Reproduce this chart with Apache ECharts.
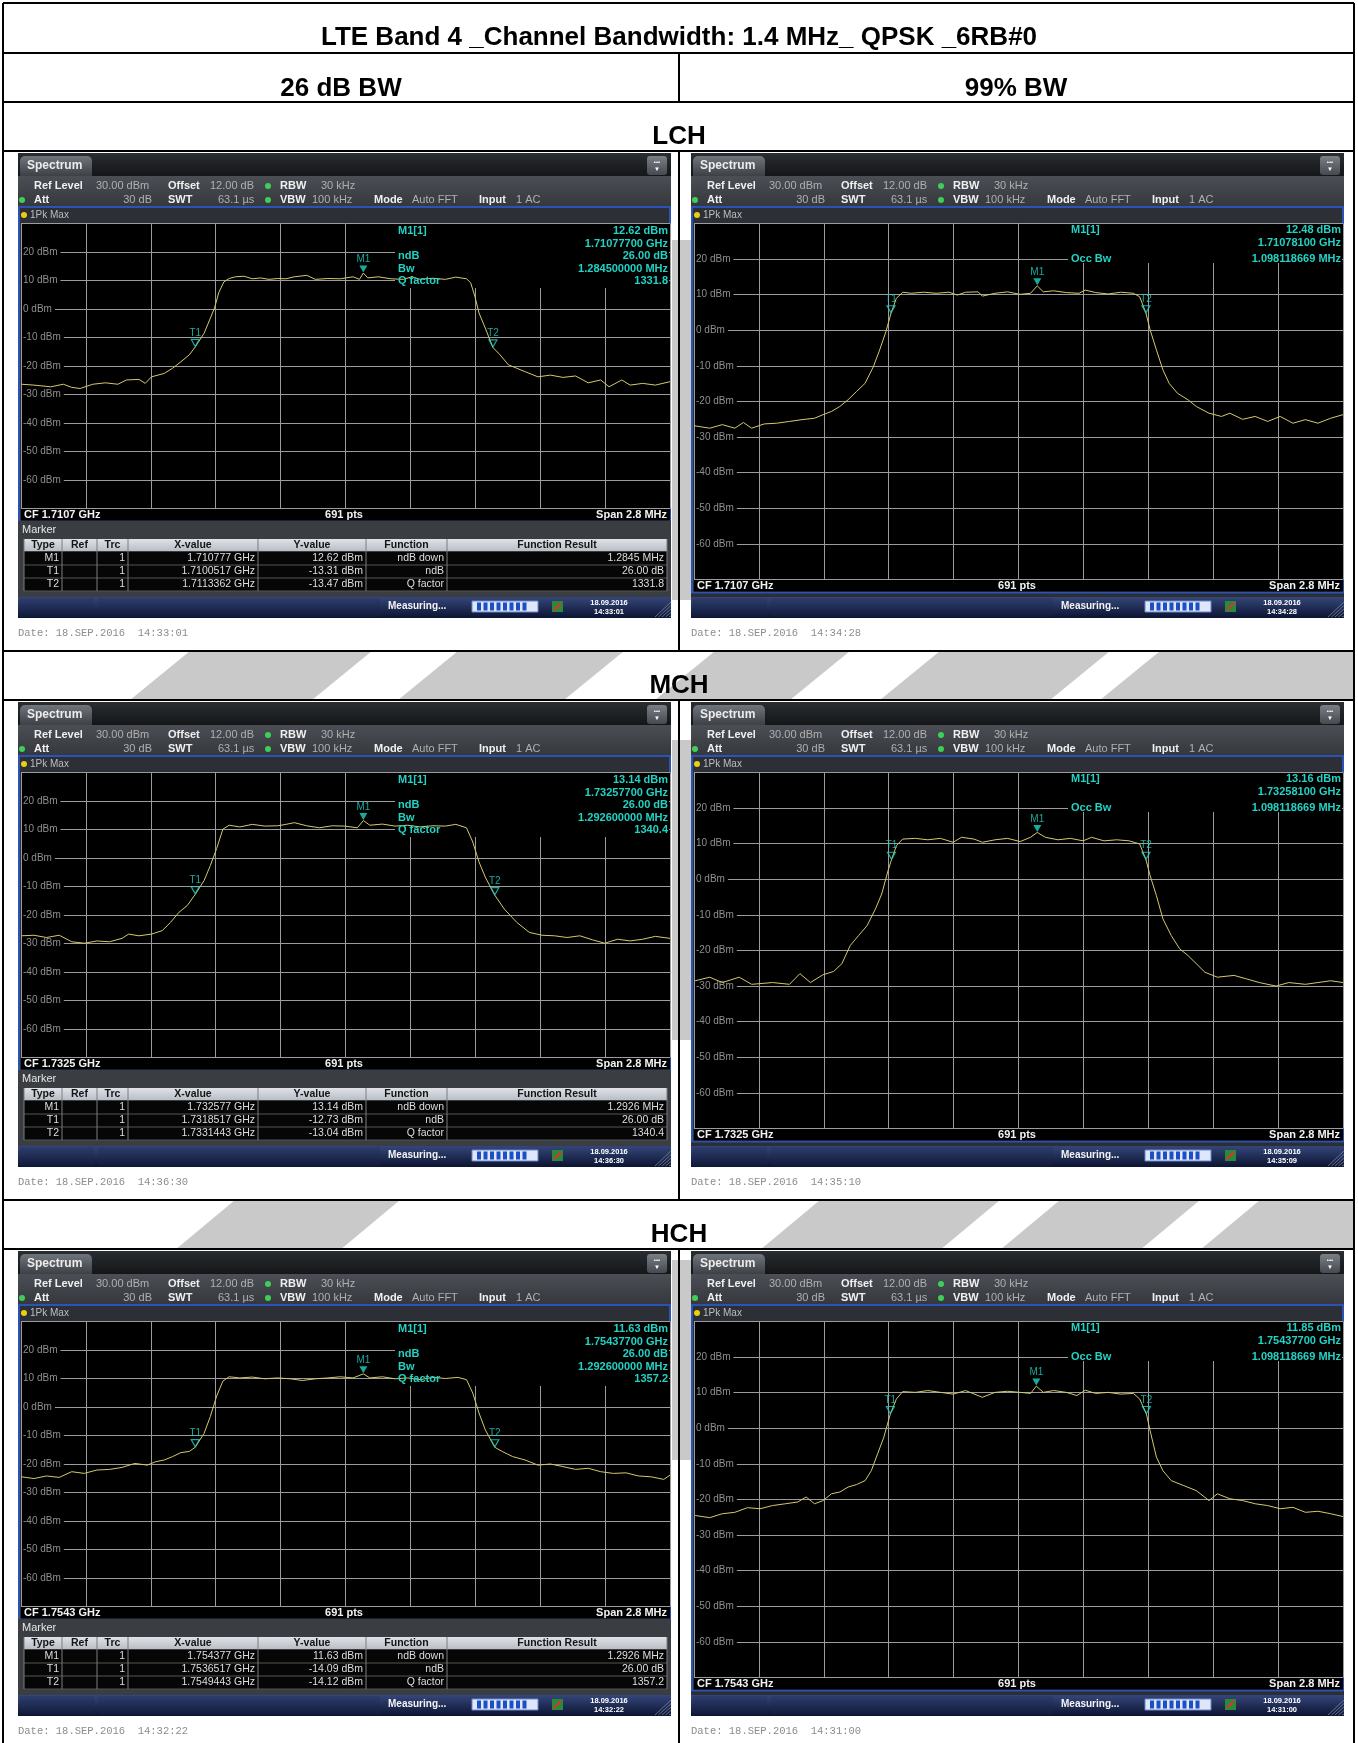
<!DOCTYPE html>
<html>
<head>
<meta charset="utf-8">
<script src="https://cdn.jsdelivr.net/npm/echarts@6/dist/echarts.min.js"></script>
<style>
html, body { margin: 0; padding: 0; background: #fff; }
#main { width: 1358px; height: 1743px; }
</style>
</head>
<body>
<div id="main"></div>
<script>
// ===== 数据：频偏(MHz，相对中心频率) / 电平(dBm) =====
const titleText = 'LTE Band 4 _Channel Bandwidth: 1.4 MHz_ QPSK _6RB#0';
const colTitles = ['26 dB BW', '99% BW'];
const rowNames = ['LCH', 'MCH', 'HCH'];
const cfLabels = ['CF 1.7107 GHz', 'CF 1.7325 GHz', 'CF 1.7543 GHz'];
const yTickLabels = [20, 10, 0, -10, -20, -30, -40, -50, -60];

const lch26Trace = [[-1.398,-26.4],[-1.344,-26.7],[-1.272,-27.3],[-1.217,-26.4],[-1.181,-27.5],[-1.145,-27.9],[-1.090,-26.4],[-1.036,-25.9],[-0.982,-26.4],[-0.945,-24.9],[-0.891,-24.7],[-0.864,-26.1],[-0.837,-23.8],[-0.782,-22.6],[-0.746,-20.8],[-0.710,-18.5],[-0.674,-16.1],[-0.648,-13.3],[-0.610,-8.5],[-0.583,-3.2],[-0.565,0.4],[-0.547,5.7],[-0.525,9.5],[-0.502,10.7],[-0.475,11.3],[-0.438,11.5],[-0.402,10.6],[-0.366,10.9],[-0.330,10.4],[-0.293,10.7],[-0.257,10.6],[-0.221,11.3],[-0.167,11.8],[-0.130,10.4],[-0.076,10.7],[-0.022,10.6],[0.033,11.3],[0.060,10.4],[0.077,12.62],[0.096,10.9],[0.141,11.3],[0.196,10.6],[0.250,10.4],[0.286,11.3],[0.322,10.4],[0.377,10.8],[0.431,10.4],[0.476,11.2],[0.522,10.6],[0.540,9.2],[0.558,4.5],[0.576,-1.4],[0.603,-6.7],[0.636,-13.5],[0.667,-16.1],[0.703,-19.6],[0.739,-20.8],[0.775,-22.0],[0.830,-23.8],[0.884,-23.2],[0.938,-24.0],[0.993,-23.5],[1.047,-25.9],[1.101,-24.9],[1.137,-27.3],[1.192,-24.9],[1.228,-26.7],[1.282,-26.1],[1.337,-26.7],[1.400,-25.5]];
const lch99Trace = [[-1.400,-26.8],[-1.332,-27.5],[-1.278,-26.5],[-1.224,-27.5],[-1.187,-25.9],[-1.151,-27.5],[-1.097,-26.3],[-1.043,-26.1],[-0.988,-25.6],[-0.934,-25.1],[-0.880,-24.7],[-0.843,-23.7],[-0.807,-22.8],[-0.771,-21.4],[-0.735,-19.5],[-0.699,-17.2],[-0.662,-14.9],[-0.626,-10.2],[-0.599,-5.5],[-0.572,-0.4],[-0.550,4.8],[-0.527,9.0],[-0.499,10.7],[-0.463,10.4],[-0.409,10.7],[-0.355,10.4],[-0.300,10.7],[-0.264,9.9],[-0.228,10.7],[-0.174,10.8],[-0.156,9.6],[-0.101,10.4],[-0.047,10.8],[0.007,10.1],[0.052,10.4],[0.081,12.48],[0.107,10.8],[0.152,11.1],[0.206,10.6],[0.261,10.4],[0.288,11.3],[0.333,10.6],[0.387,10.2],[0.441,10.7],[0.496,10.4],[0.523,9.4],[0.550,4.8],[0.568,0.1],[0.595,-5.5],[0.623,-11.1],[0.650,-14.9],[0.686,-17.7],[0.731,-19.5],[0.767,-21.4],[0.822,-23.3],[0.876,-24.2],[0.912,-23.3],[0.967,-25.0],[1.021,-24.2],[1.075,-25.6],[1.129,-24.2],[1.184,-26.1],[1.238,-25.1],[1.292,-26.1],[1.347,-24.7],[1.400,-23.7]];
const mch26Trace = [[-1.398,-27.3],[-1.344,-27.1],[-1.290,-27.9],[-1.235,-27.1],[-1.181,-29.4],[-1.127,-29.9],[-1.072,-29.1],[-1.018,-29.4],[-0.964,-28.2],[-0.936,-26.7],[-0.891,-27.3],[-0.837,-26.7],[-0.791,-25.5],[-0.755,-22.6],[-0.719,-19.1],[-0.683,-16.7],[-0.648,-12.73],[-0.610,-7.9],[-0.583,-2.6],[-0.556,3.3],[-0.529,10.1],[-0.502,11.5],[-0.456,10.9],[-0.402,11.8],[-0.348,11.2],[-0.293,11.3],[-0.257,11.8],[-0.221,12.4],[-0.167,11.3],[-0.112,10.6],[-0.058,11.3],[-0.004,11.2],[0.051,10.6],[0.077,13.14],[0.105,11.5],[0.159,11.9],[0.214,11.2],[0.268,11.5],[0.322,10.9],[0.377,11.3],[0.431,11.2],[0.476,11.8],[0.522,10.6],[0.549,5.6],[0.576,-1.4],[0.603,-6.7],[0.644,-13.04],[0.685,-17.9],[0.739,-22.6],[0.793,-26.1],[0.848,-27.1],[0.902,-27.3],[0.956,-27.9],[1.011,-27.3],[1.065,-28.7],[1.119,-29.9],[1.174,-28.5],[1.228,-29.1],[1.282,-28.5],[1.337,-27.5],[1.400,-28.2]];
const mch99Trace = [[-1.395,-28.5],[-1.332,-27.5],[-1.278,-29.0],[-1.205,-27.5],[-1.151,-29.5],[-1.061,-29.0],[-0.988,-29.5],[-0.943,-26.5],[-0.898,-29.0],[-0.843,-26.8],[-0.798,-25.9],[-0.762,-23.7],[-0.726,-18.6],[-0.690,-15.8],[-0.653,-13.0],[-0.617,-8.3],[-0.590,-4.1],[-0.563,2.4],[-0.548,5.5],[-0.527,9.4],[-0.500,11.3],[-0.445,11.5],[-0.391,11.1],[-0.337,11.5],[-0.282,10.4],[-0.246,11.8],[-0.192,11.3],[-0.156,10.4],[-0.101,11.1],[-0.047,11.5],[0.007,10.6],[0.052,11.8],[0.081,13.16],[0.116,11.8],[0.170,11.1],[0.224,11.5],[0.279,10.8],[0.315,11.8],[0.369,10.8],[0.424,11.1],[0.478,10.8],[0.523,9.9],[0.550,5.5],[0.568,1.0],[0.595,-4.6],[0.623,-11.1],[0.659,-15.8],[0.695,-19.5],[0.731,-21.4],[0.767,-23.7],[0.804,-26.1],[0.858,-27.5],[0.930,-27.0],[0.985,-28.0],[1.039,-29.0],[1.111,-30.0],[1.166,-29.0],[1.238,-29.5],[1.292,-29.0],[1.347,-28.5],[1.400,-29.0]];
const hch26Trace = [[-1.398,-24.5],[-1.344,-25.1],[-1.290,-24.2],[-1.235,-24.7],[-1.181,-22.7],[-1.127,-23.3],[-1.072,-22.1],[-1.018,-21.9],[-0.964,-21.2],[-0.909,-19.8],[-0.855,-20.4],[-0.819,-19.2],[-0.782,-18.6],[-0.746,-17.4],[-0.710,-16.0],[-0.674,-15.6],[-0.648,-14.09],[-0.610,-9.2],[-0.583,-3.3],[-0.556,3.8],[-0.529,9.1],[-0.502,10.6],[-0.456,10.2],[-0.402,10.5],[-0.348,9.9],[-0.293,10.2],[-0.239,9.9],[-0.185,9.3],[-0.130,9.9],[-0.076,10.2],[-0.022,10.6],[0.033,10.2],[0.077,11.63],[0.105,10.2],[0.159,10.6],[0.214,9.9],[0.268,10.2],[0.322,9.6],[0.377,10.4],[0.431,10.0],[0.485,10.4],[0.522,9.6],[0.549,4.9],[0.576,-2.1],[0.603,-8.0],[0.644,-14.12],[0.676,-15.6],[0.721,-17.4],[0.775,-18.6],[0.830,-20.4],[0.884,-20.0],[0.938,-20.9],[0.993,-21.9],[1.047,-21.5],[1.101,-22.7],[1.156,-23.3],[1.210,-23.1],[1.264,-24.2],[1.319,-24.5],[1.373,-25.4],[1.400,-23.9]];
const hch99Trace = [[-1.395,-24.5],[-1.332,-25.1],[-1.278,-24.0],[-1.224,-23.6],[-1.169,-22.3],[-1.115,-22.6],[-1.061,-21.7],[-1.006,-21.2],[-0.952,-20.7],[-0.916,-19.3],[-0.880,-21.2],[-0.843,-20.3],[-0.807,-18.4],[-0.771,-17.9],[-0.735,-16.5],[-0.699,-15.8],[-0.662,-14.7],[-0.635,-11.9],[-0.608,-7.2],[-0.581,-2.5],[-0.553,4.0],[-0.527,8.2],[-0.500,10.3],[-0.445,10.1],[-0.391,10.6],[-0.337,10.1],[-0.282,9.6],[-0.228,10.6],[-0.156,8.7],[-0.101,10.1],[-0.047,10.4],[0.007,10.1],[0.052,9.8],[0.077,11.85],[0.107,10.1],[0.152,10.6],[0.206,10.1],[0.252,9.2],[0.288,10.7],[0.333,9.8],[0.387,10.1],[0.441,9.6],[0.496,9.8],[0.523,8.2],[0.552,4.0],[0.568,-0.7],[0.595,-8.1],[0.623,-11.9],[0.659,-14.7],[0.713,-16.1],[0.767,-17.5],[0.822,-20.3],[0.858,-18.4],[0.912,-19.8],[0.967,-20.3],[1.021,-21.2],[1.075,-21.7],[1.129,-22.6],[1.184,-22.2],[1.238,-23.6],[1.292,-23.3],[1.347,-24.0],[1.400,-24.8]];

// 标记点 [名称, 频偏MHz, dBm]
const lch26Marks = [['M1', 0.077, 12.62], ['T1', -0.6483, -13.31], ['T2', 0.6362, -13.47]];
const lch99Marks = [['M1', 0.081, 12.48], ['T1', -0.550, 4.8], ['T2', 0.550, 4.8]];
const mch26Marks = [['M1', 0.077, 13.14], ['T1', -0.6483, -12.73], ['T2', 0.6443, -13.04]];
const mch99Marks = [['M1', 0.081, 13.16], ['T1', -0.548, 5.5], ['T2', 0.550, 5.5]];
const hch26Marks = [['M1', 0.077, 11.63], ['T1', -0.6483, -14.09], ['T2', 0.6443, -14.12]];
const hch99Marks = [['M1', 0.077, 11.85], ['T1', -0.553, 4.0], ['T2', 0.552, 4.0]];

// 右上角读数
const lch26Readout = ['12.62 dBm', '1.71077700 GHz', '26.00 dB', '1.284500000 MHz', '1331.8'];
const mch26Readout = ['13.14 dBm', '1.73257700 GHz', '26.00 dB', '1.292600000 MHz', '1340.4'];
const hch26Readout = ['11.63 dBm', '1.75437700 GHz', '26.00 dB', '1.292600000 MHz', '1357.2'];
const lch99Readout = ['12.48 dBm', '1.71078100 GHz', '1.098118669 MHz'];
const mch99Readout = ['13.16 dBm', '1.73258100 GHz', '1.098118669 MHz'];
const hch99Readout = ['11.85 dBm', '1.75437700 GHz', '1.098118669 MHz'];

// Marker 表
const tableHead = ['Type', 'Ref', 'Trc', 'X-value', 'Y-value', 'Function', 'Function Result'];
const lchTable = [['M1', '', '1', '1.710777 GHz', '12.62 dBm', 'ndB down', '1.2845 MHz'],
                  ['T1', '', '1', '1.7100517 GHz', '-13.31 dBm', 'ndB', '26.00 dB'],
                  ['T2', '', '1', '1.7113362 GHz', '-13.47 dBm', 'Q factor', '1331.8']];
const mchTable = [['M1', '', '1', '1.732577 GHz', '13.14 dBm', 'ndB down', '1.2926 MHz'],
                  ['T1', '', '1', '1.7318517 GHz', '-12.73 dBm', 'ndB', '26.00 dB'],
                  ['T2', '', '1', '1.7331443 GHz', '-13.04 dBm', 'Q factor', '1340.4']];
const hchTable = [['M1', '', '1', '1.754377 GHz', '11.63 dBm', 'ndB down', '1.2926 MHz'],
                  ['T1', '', '1', '1.7536517 GHz', '-14.09 dBm', 'ndB', '26.00 dB'],
                  ['T2', '', '1', '1.7549443 GHz', '-14.12 dBm', 'Q factor', '1357.2']];

const stampTimes = [['14:33:01', '14:34:28'], ['14:36:30', '14:35:09'], ['14:32:22', '14:31:00']];
const dateTimes = [['14:33:01', '14:34:28'], ['14:36:30', '14:35:10'], ['14:32:22', '14:31:00']];

(function () {
    const cyan = '#22d2c4';
    const traceColor = '#d3ca6c';
    const gridColor = '#9c9c9c';
    const F = '"Liberation Sans", Arial, sans-serif';
    const rowStep = 549;

    const myChart = echarts.init(document.getElementById('main'));
    const g = [];

    function rect(x, y, w, h, fill, extra) {
        g.push(Object.assign({ type: 'rect', silent: true, z: -10, shape: { x: x, y: y, width: w, height: h }, style: { fill: fill } }, extra || {}));
    }
    function line(x1, y1, x2, y2, stroke, w, z) {
        g.push({ type: 'line', silent: true, z: z == null ? -9 : z, shape: { x1: x1, y1: y1, x2: x2, y2: y2 }, style: { stroke: stroke, lineWidth: w } });
    }
    function txt(x, y, s, font, fill, align, z) {
        g.push({ type: 'text', silent: true, z: z == null ? 5 : z, x: x, y: y,
            style: { text: s, font: font, fill: fill, textAlign: align || 'left', align: align || 'left', textVerticalAlign: 'middle', verticalAlign: 'middle' } });
    }
    function poly(pts, fill) {
        g.push({ type: 'polygon', silent: true, z: -20, shape: { points: pts }, style: { fill: fill } });
    }
    function vgrad(a, b) {
        return { type: 'linear', x: 0, y: 0, x2: 0, y2: 1, colorStops: [{ offset: 0, color: a }, { offset: 1, color: b }] };
    }

    // 背景水印条纹
    const wm = '#c9c9c9';
    poly([[130, 700], [190, 651], [372, 651], [312, 700]], wm);
    poly([[398, 700], [458, 651], [624, 651], [564, 700]], wm);
    poly([[655, 700], [715, 651], [850, 651], [790, 700]], wm);
    poly([[880, 700], [940, 651], [1110, 651], [1050, 700]], wm);
    poly([[1100, 700], [1160, 651], [1354, 651], [1354, 700]], wm);
    poly([[175, 1250], [235, 1200], [400, 1200], [340, 1250]], wm);
    poly([[760, 1250], [820, 1200], [1000, 1200], [940, 1250]], wm);
    poly([[1000, 1250], [1060, 1200], [1200, 1200], [1140, 1250]], wm);
    poly([[1200, 1250], [1260, 1200], [1354, 1200], [1354, 1250]], wm);
    rect(672, 240, 19, 360, wm, { z: -20 });
    rect(672, 740, 19, 300, wm, { z: -20 });
    rect(672, 1260, 19, 200, wm, { z: -20 });

    // 表格标题
    txt(679, 38, titleText, 'bold 26px ' + F, '#000', 'center');
    txt(341, 89, colTitles[0], 'bold 26px ' + F, '#000', 'center');
    txt(1016, 89, colTitles[1], 'bold 26px ' + F, '#000', 'center');
    rowNames.forEach(function (n, r) {
        txt(679, 137 + rowStep * r, n, 'bold 26px ' + F, '#000', 'center');
    });

    // 表格线
    const tl = '#000';
    line(3, 3, 1354, 3, tl, 2, 6);
    line(3, 3, 3, 1743, tl, 2, 6);
    line(1354, 3, 1354, 1743, tl, 2, 6);
    [53, 102, 151, 651, 700, 1200, 1249].forEach(function (y) { line(3, y, 1354, y, tl, 2, 6); });
    [[53, 102], [151, 651], [700, 1200], [1249, 1743]].forEach(function (s) { line(679, s[0], 679, s[1], tl, 2, 6); });

    const panels = [
        { row: 0, side: 0, trace: lch26Trace, marks: lch26Marks, readout: lch26Readout, table: lchTable },
        { row: 0, side: 1, trace: lch99Trace, marks: lch99Marks, readout: lch99Readout },
        { row: 1, side: 0, trace: mch26Trace, marks: mch26Marks, readout: mch26Readout, table: mchTable },
        { row: 1, side: 1, trace: mch99Trace, marks: mch99Marks, readout: mch99Readout },
        { row: 2, side: 0, trace: hch26Trace, marks: hch26Marks, readout: hch26Readout, table: hchTable },
        { row: 2, side: 1, trace: hch99Trace, marks: hch99Marks, readout: hch99Readout }
    ];

    const grids = [], xAxes = [], yAxes = [], series = [];
    const colX = [6, 44, 79, 110, 240, 348, 429, 649];

    panels.forEach(function (p, i) {
        const px = p.side ? 691 : 18;
        const py = 153 + rowStep * p.row;
        const gh = p.side ? 356 : 285;      // 图形区高度
        const gTop = py + 70.5;
        const gBot = gTop + gh;

        // 仪器窗口外框
        rect(px, py, 653, 465, '#2b2e33');
        rect(px, py, 653, 23, vgrad('#2a2d31', '#141618'));
        rect(px + 2, py + 3, 72, 20, vgrad('#70757c', '#3d4146'), { shape: { x: px + 2, y: py + 3, width: 72, height: 20, r: [5, 5, 0, 0] } });
        txt(px + 9, py + 13, 'Spectrum', 'bold 12px ' + F, '#ececec');
        rect(px + 629, py + 3, 20, 19, vgrad('#7a7f86', '#464a50'), { shape: { x: px + 629, y: py + 3, width: 20, height: 19, r: 3 } });
        txt(px + 639, py + 9, '•••', 'bold 6px ' + F, '#fff', 'center');
        txt(px + 639, py + 16, '▼', '6px ' + F, '#fff', 'center');
        rect(px, py + 23, 653, 31, vgrad('#4b4f55', '#34373c'));

        // 参数行
        const b11 = 'bold 11px ' + F, n11 = '11px ' + F;
        const lw = '#f0f0f0', lv = '#b0b0b0';
        const y1 = py + 33, y2 = py + 47;
        txt(px + 16, y1, 'Ref Level', b11, lw); txt(px + 78, y1, '30.00 dBm', n11, lv);
        txt(px + 150, y1, 'Offset', b11, lw); txt(px + 192, y1, '12.00 dB', n11, lv);
        txt(px + 262, y1, 'RBW', b11, lw); txt(px + 303, y1, '30 kHz', n11, lv);
        txt(px + 16, y2, 'Att', b11, lw); txt(px + 134, y2, '30 dB', n11, lv, 'right');
        txt(px + 150, y2, 'SWT', b11, lw); txt(px + 200, y2, '63.1 µs', n11, lv);
        txt(px + 262, y2, 'VBW', b11, lw); txt(px + 294, y2, '100 kHz', n11, lv);
        txt(px + 356, y2, 'Mode', b11, lw); txt(px + 394, y2, 'Auto FFT', n11, lv);
        txt(px + 461, y2, 'Input', b11, lw); txt(px + 498, y2, '1 AC', n11, lv);
        [[250, 33], [4, 47], [250, 47]].forEach(function (d) {
            g.push({ type: 'circle', silent: true, z: 4, shape: { cx: px + d[0], cy: py + d[1], r: 3 }, style: { fill: '#3fcf58' } });
        });

        // 蓝色测量框
        const frameBot = gBot + 13;
        rect(px + 1, py + 54, 651, frameBot - py - 54, '#2c3036', { style: { fill: '#2c3036', stroke: '#2b52b4', lineWidth: 2 } });
        g.push({ type: 'circle', silent: true, z: 4, shape: { cx: px + 6, cy: py + 62, r: 3 }, style: { fill: '#e8cf10' } });
        txt(px + 12, py + 62, '1Pk Max', '10px ' + F, '#bdbdbd');
        rect(px + 3, gTop, 649, gh + 12, '#000', { z: -8 });
        txt(px + 6, gBot + 6, cfLabels[p.row], 'bold 11px ' + F, '#f2f2f2');
        txt(px + 326, gBot + 6, '691 pts', 'bold 11px ' + F, '#f2f2f2', 'center');
        txt(px + 649, gBot + 6, 'Span 2.8 MHz', 'bold 11px ' + F, '#f2f2f2', 'right');

        // 读数区（遮住网格）
        const b11c = 'bold 11px ' + F;
        if (p.side === 0) {
            rect(px + 377, gTop + 0.5, 274, 64, '#000', { z: 1 });
            const ry = [78, 90.5, 103, 115.5, 128];
            const names = ['M1[1]', '', 'ndB', 'Bw', 'Q factor'];
            ry.forEach(function (yy, k) {
                if (names[k]) txt(px + 380, py + yy, names[k], b11c, cyan);
                txt(px + 650, py + yy, p.readout[k], b11c, cyan, 'right');
            });
        } else {
            rect(px + 377, gTop + 0.5, 274, 39, '#000', { z: 1 });
            txt(px + 380, py + 77, 'M1[1]', b11c, cyan);
            txt(px + 650, py + 77, p.readout[0], b11c, cyan, 'right');
            txt(px + 650, py + 90, p.readout[1], b11c, cyan, 'right');
            txt(px + 380, py + 106, 'Occ Bw', b11c, cyan);
            txt(px + 650, py + 106, p.readout[2], b11c, cyan, 'right');
        }

        // Marker 表
        if (p.table) {
            rect(px, py + 368, 653, 76, '#3a3d42');
            txt(px + 4, py + 377, 'Marker', '11px ' + F, '#e6e6e6');
            rect(px + colX[0], py + 386, colX[7] - colX[0], 12, vgrad('#dfe3e8', '#b9bec5'));
            rect(px + colX[0], py + 399, colX[7] - colX[0], 39, '#060606');
            tableHead.forEach(function (h, c) {
                txt(px + (colX[c] + colX[c + 1]) / 2, py + 392, h, 'bold 10.5px ' + F, '#151515', 'center');
            });
            p.table.forEach(function (row, r) {
                const yy = py + 405.5 + 13 * r;
                row.forEach(function (cell, c) {
                    if (cell) txt(px + colX[c + 1] - 3, yy, cell, '10.5px ' + F, '#dedede', 'right');
                });
                line(px + colX[0], py + 412 + 13 * r, px + colX[7], py + 412 + 13 * r, '#555', 1, -7);
            });
            colX.forEach(function (cx) { line(px + cx, py + 386, px + cx, py + 438, '#7c7c7c', 1, -7); });
        }

        // 状态栏
        rect(px, py + 444, 653, 21, vgrad('#35467a', '#0b1431'));
        rect(px + 2, py + 445, 74, 19, vgrad('#2d3d6c', '#101a3a'));
        rect(px + 80, py + 445, 282, 19, vgrad('#2d3d6c', '#101a3a'));
        txt(px + 370, py + 453, 'Measuring...', 'bold 10px ' + F, '#f4f4f4');
        rect(px + 454, py + 448, 66, 11, '#dfe7fb', { style: { fill: '#dfe7fb', stroke: '#6d85c8', lineWidth: 1 } });
        for (let k = 0; k < 8; k++) rect(px + 459 + k * 6.5, py + 449.5, 4, 8, '#1d4fc4', { z: -7 });
        rect(px + 534, py + 448, 11, 11, '#2a8a3a', { z: -7 });
        line(px + 536, py + 457, px + 543, py + 450, '#e03030', 2, -6);
        txt(px + 591, py + 450, '18.09.2016', 'bold 7.5px ' + F, '#fff', 'center');
        txt(px + 591, py + 459, stampTimes[p.row][p.side], 'bold 7.5px ' + F, '#fff', 'center');
        for (let k = 0; k < 5; k++) line(px + 637 + k * 3.5, py + 464, px + 653, py + 449 + k * 3.5, '#8a93ad', 0.7, -7);

        txt(px, py + 480, 'Date: 18.SEP.2016  ' + dateTimes[p.row][p.side], '10.5px "Liberation Mono", monospace', '#8c8c8c');

        // 坐标系
        grids.push({ left: p.side ? 694 : 21, top: gTop, width: 649, height: gh, show: false });
        xAxes.push({
            gridIndex: i, type: 'value', min: -1.4, max: 1.4, interval: 0.28,
            axisLine: { show: false }, axisTick: { show: false }, axisLabel: { show: false },
            splitLine: { show: true, lineStyle: { color: gridColor, width: 1 } }
        });
        yAxes.push({
            gridIndex: i, type: 'value', min: -70, max: 30, interval: 10,
            axisLine: { show: false }, axisTick: { show: false },
            axisLabel: {
                inside: true, margin: 1, color: '#8f8f8f', fontSize: 10, fontFamily: 'Liberation Sans',
                backgroundColor: '#000', padding: [0, 3, 0, 1],
                showMinLabel: false, showMaxLabel: false,
                formatter: function (v) { return yTickLabels.indexOf(v) >= 0 ? v + ' dBm' : ''; }
            },
            splitLine: { show: true, lineStyle: { color: gridColor, width: 1 } }
        });
        series.push({
            type: 'line', xAxisIndex: i, yAxisIndex: i, data: p.trace, symbol: 'none', showSymbol: false,
            lineStyle: { color: traceColor, width: 1 }, silent: true, z: 3, animation: false
        });
        series.push({
            type: 'scatter', xAxisIndex: i, yAxisIndex: i, z: 4, silent: true, animation: false,
            symbol: 'triangle', symbolRotate: 180, symbolSize: [8, 7], symbolOffset: [0, -4],
            data: p.marks.map(function (m) {
                return {
                    name: m[0], value: [m[1], m[2]],
                    itemStyle: m[0] === 'M1' ? { color: cyan } : { color: 'rgba(0,0,0,0)', borderColor: cyan, borderWidth: 1.2 }
                };
            }),
            label: { show: true, position: 'top', distance: 1, formatter: '{b}', color: cyan, fontSize: 10, fontFamily: 'Liberation Sans' }
        });
    });

    myChart.setOption({
        animation: false,
        backgroundColor: '#fff',
        grid: grids,
        xAxis: xAxes,
        yAxis: yAxes,
        series: series,
        graphic: { elements: g }
    });
})();
</script>
</body>
</html>
